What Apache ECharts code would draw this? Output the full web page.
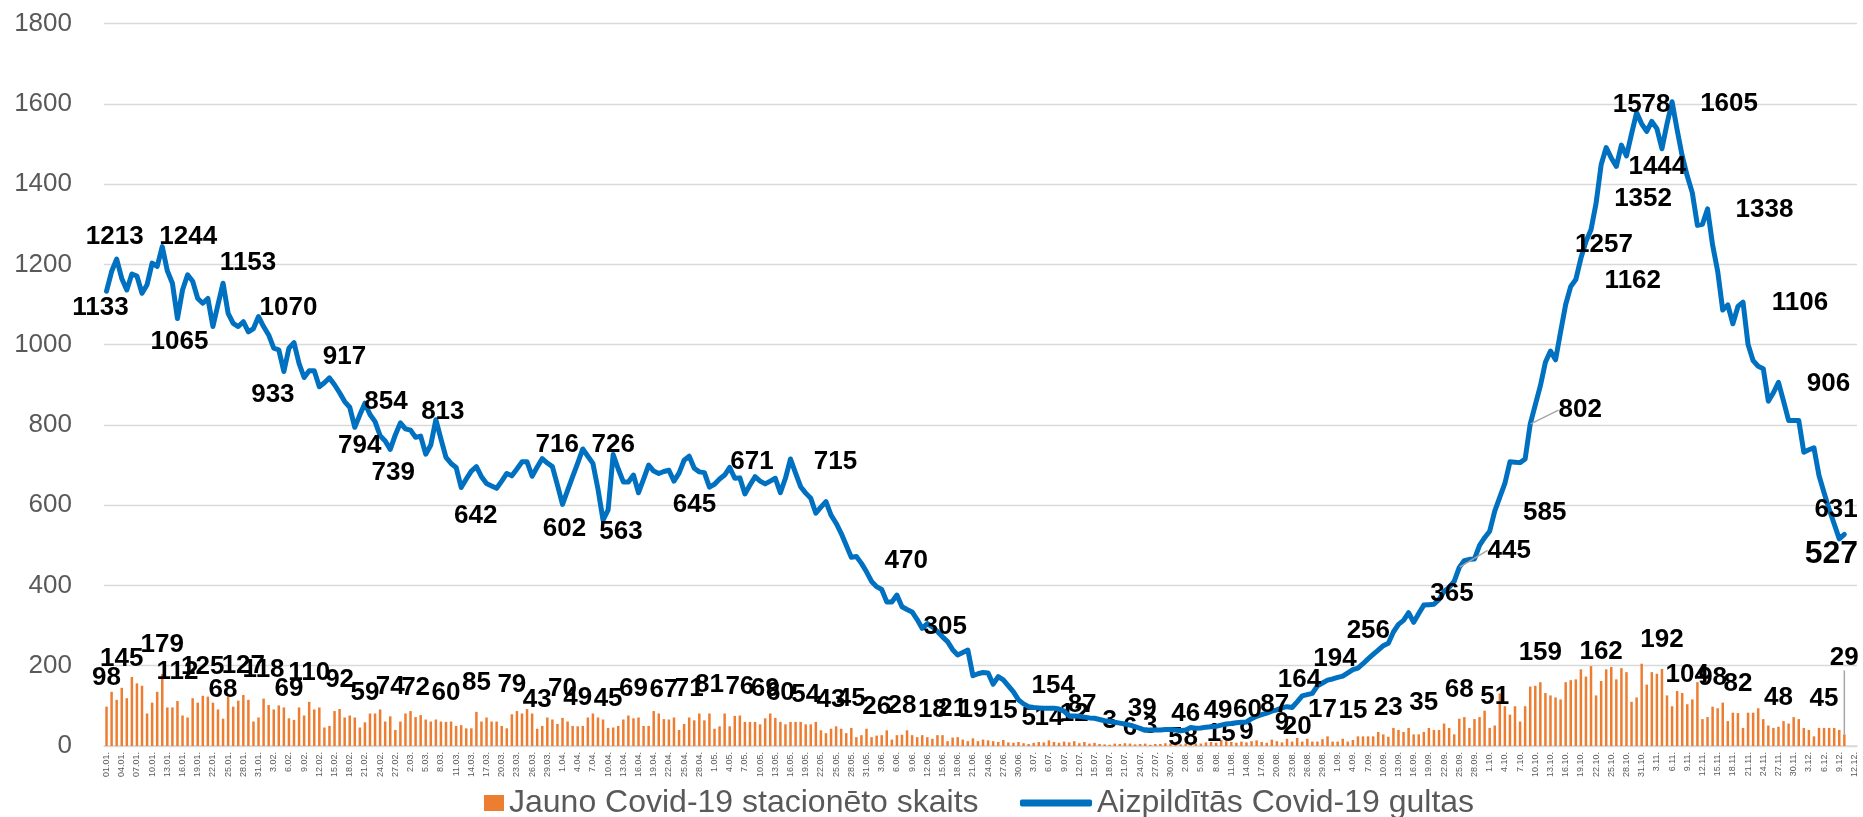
<!DOCTYPE html>
<html><head><meta charset="utf-8">
<script src="https://cdn.jsdelivr.net/npm/echarts@6/dist/echarts.min.js"></script>
<style>html,body{margin:0;padding:0;background:#fff}#c{width:1863px;height:817px}</style>
</head><body><div id="c"></div>
<script>
// ---------- DATA ----------
const seriesNames = ['Jauno Covid-19 stacionēto skaits', 'Aizpildītās Covid-19 gultas'];
const firstDay = '2021-01-01';
const categoryCount = 346; // 01.01. ... 12.12.

// New hospitalised patients per day (01.01. – 10.12.)
const newPatients = [
 98,135,115,145,119,172,156,150,81,108,
 135,179,96,96,112,76,71,119,108,125,
 123,108,91,68,123,98,113,127,115,61,
 71,118,102,91,101,96,69,65,96,76,
 110,91,96,46,50,87,92,71,76,71,
 46,59,81,81,91,61,74,40,61,81,
 87,72,77,66,61,66,61,60,61,50,
 52,44,44,85,61,71,61,61,50,44,
 79,87,81,92,81,43,50,71,66,55,
 70,61,50,49,50,71,81,71,66,45,
 46,50,66,76,69,71,50,50,87,81,
 67,66,71,40,55,71,64,81,64,81,
 43,49,81,49,75,76,60,60,60,54,
 69,81,70,60,54,60,60,60,54,54,
 60,39,32,43,49,43,32,45,22,27,
 43,22,26,27,39,16,27,28,39,27,
 22,27,22,18,27,27,12,21,22,16,
 12,19,12,16,14,12,10,15,9,8,
 10,7,5,8,10,9,14,10,8,11,
 9,12,7,10,6,8,5,4,3,6,
 5,7,6,4,5,6,3,5,5,7,
 6,5,4,6,8,6,6,9,10,8,
 15,12,10,8,11,9,12,14,10,8,
 16,12,9,18,11,20,11,18,11,11,
 17,24,11,11,18,11,15,24,24,24,
 24,35,29,23,45,40,35,45,29,29,
 35,45,40,40,56,45,29,68,72,45,
 67,72,88,45,51,131,99,78,99,61,
 99,148,150,159,132,126,121,116,159,164,
 166,191,173,199,126,162,191,197,166,194,
 184,110,121,205,153,184,180,192,126,99,
 137,132,104,116,159,67,72,98,94,108,
 62,83,82,45,83,83,94,67,51,45,
 48,62,56,72,67,45,40,24,45,45,
 45,45,40,29
];

// Occupied Covid-19 beds per day
const occupiedBeds = [
 1133,1182,1213,1165,1136,1176,1171,1128,1149,1203,
 1195,1244,1184,1153,1065,1136,1174,1158,1115,1103,
 1115,1045,1100,1153,1078,1053,1045,1057,1032,1040,
 1070,1045,1024,991,987,933,991,1005,953,918,
 935,935,895,905,917,900,880,858,844,794,
 825,854,826,808,773,760,739,775,805,790,
 787,769,772,727,750,813,765,719,704,694,
 644,665,685,696,671,654,648,642,660,679,
 673,690,708,708,672,695,716,705,696,650,
 602,637,671,705,740,722,704,640,563,588,
 726,690,658,658,675,631,665,700,685,679,
 684,687,660,680,712,722,692,683,681,645,
 652,665,675,694,667,668,628,650,671,660,
 653,660,667,631,667,715,680,646,630,617,
 580,595,609,575,555,530,500,470,472,455,
 434,410,397,390,359,359,376,347,340,334,
 315,293,305,297,285,272,260,240,227,233,
 239,175,180,183,182,154,173,165,150,135,
 115,105,98,96,95,94,94,94,92,87,
 75,75,74,72,70,69,66,63,61,59,
 57,55,52,48,44,39,40,40,40,41,
 41,40,38,40,46,44,45,47,48,49,
 52,55,56,58,59,60,68,74,78,82,
 87,90,95,98,96,110,125,128,131,150,
 157,164,167,171,174,182,190,194,205,217,
 228,239,250,256,284,303,313,332,308,330,
 351,352,353,365,385,395,410,445,462,465,
 466,500,519,535,585,620,654,708,707,706,
 715,802,850,897,956,984,962,1032,1100,1145,
 1162,1215,1257,1286,1352,1448,1491,1465,1444,1497,
 1470,1525,1578,1550,1531,1556,1538,1488,1550,1605,
 1535,1470,1420,1378,1297,1300,1338,1248,1183,1086,
 1099,1052,1095,1106,1000,960,946,940,859,880,
 906,859,811,811,811,732,738,743,674,631,
 590,553,516,527
];

// Days whose values carry a data label
const barLabelDays = [0,3,11,14,19,23,27,31,36,40,46,51,56,61,67,73,80,85,90,93,99,104,110,115,119,125,130,133,138,143,147,152,157,163,167,171,177,182,186,191,198,202,206,211,214,220,225,232,235,240,246,253,260,267,274,283,295,307,312,317,322,330,339,343];
const lineLabelDays = [0,2,11,14,23,30,35,44,49,51,56,65,77,86,90,98,100,119,128,135,147,162,175,189,205,214,219,225,230,241,247,253,263,267,274,281,290,292,294,298,302,309,316,323,330,339,343];

// ---------- STYLE (label placement, px: label centre relative to the point) ----------
const lineLabelOffset = {0:[-6,17],2:[-2,-22],11:[26,-10],14:[2,23],23:[25,-20],30:[30,-9],35:[-11,23],44:[15,-21],49:[5,19],51:[21,-1],56:[3,23],65:[7,-8],77:[-21,28],86:[15,-14],90:[2,24],98:[18,12],100:[0,-10],119:[-15,18],128:[-3,-15],135:[45,3],147:[55,3],162:[18,3],175:[60,2],189:[18,-6],205:[-3,-22],214:[-5,-14],219:[2,-16],225:[1,-12],230:[3,-6],241:[-28,0],247:[-23,-9],253:[-20,-12],263:[13,-6],267:[50,-17],274:[50,2],281:[50,-14],290:[57,1],292:[18,3],294:[47,-4],298:[41,0],302:[5,-8],309:[57,2],316:[57,1],323:[57,1],330:[50,1],339:[12,17],343:[-13,20]};
const lineLeaderDays = [267, 281];      // labels drawn with a grey leader line
const barLabelShift = {182:[0,3],186:[0,6],191:[0,2],198:[0,5],202:[0,13],206:[0,10],211:[0,23],214:[0,24],220:[0,23],225:[0,18],232:[0,9],235:[0,18],343:[0,-48]};
const barLeaderDays = [343];

// ---------- BUILD ----------
const categories = [];
(function(){
  const base = new Date(firstDay + 'T00:00:00Z');
  for (let i = 0; i < categoryCount; i++) {
    const d = new Date(base.getTime() + i * 86400000);
    const day = d.getUTCDate(), mon = d.getUTCMonth() + 1;
    const dd = (mon === 1 && day < 10) ? '0' + day : String(day);
    categories.push(dd + '.' + String(mon).padStart(2, '0') + '.');
  }
})();

const labelFont = {fontFamily: 'Liberation Sans', fontWeight: 'bold', fontSize: 26, color: '#000'};
const leaderLine = {show: true, length2: 0, smooth: false, lineStyle: {color: '#a6a6a6', width: 1.5}};

const barData = newPatients.map((v, i) => {
  if (barLabelDays.indexOf(i) < 0) return v;
  const item = {value: v, label: Object.assign({show: true, position: 'top', distance: 16}, labelFont)};
  if (barLeaderDays.indexOf(i) >= 0) item.labelLine = leaderLine;
  return item;
});
const lineData = occupiedBeds.map((v, i) => {
  if (lineLabelDays.indexOf(i) < 0) return v;
  const lab = Object.assign({show: true, position: 'inside'}, labelFont);
  if (i === occupiedBeds.length - 1) lab.fontSize = 32;
  const item = {value: v, label: lab};
  if (lineLeaderDays.indexOf(i) >= 0) item.labelLine = leaderLine;
  return item;
});

function shiftFrom(table) {
  return p => {
    const s = table[p.dataIndex];
    return s ? {dx: s[0], dy: s[1]} : {};
  };
}

const chart = echarts.init(document.getElementById('c'), null, {renderer: 'canvas'});
chart.setOption({
  animation: false,
  backgroundColor: '#fff',
  grid: {left: 104, right: 6, top: 23.5, bottom: 71, containLabel: false},
  legend: [
    {data: [seriesNames[0]], left: 479, top: 782, icon: 'rect', itemWidth: 20, itemHeight: 16,
     textStyle: {fontFamily: 'Liberation Sans', fontSize: 32, color: '#595959'}},
    {data: [seriesNames[1]], left: 1015, top: 782, icon: 'roundRect', itemWidth: 72, itemHeight: 7,
     textStyle: {fontFamily: 'Liberation Sans', fontSize: 32, color: '#595959'}}
  ],
  xAxis: {
    type: 'category', data: categories, boundaryGap: true,
    axisLine: {lineStyle: {color: '#d9d9d9', width: 1.5}},
    axisTick: {show: false},
    axisLabel: {interval: 2, rotate: 90, fontSize: 9, color: '#595959', fontFamily: 'Liberation Sans', margin: 6}
  },
  yAxis: {
    type: 'value', min: 0, max: 1800, interval: 200,
    axisLine: {show: false}, axisTick: {show: false},
    axisLabel: {fontSize: 26, color: '#595959', fontFamily: 'Liberation Sans', margin: 32,
                formatter: v => String(v)},
    splitLine: {lineStyle: {color: '#d9d9d9', width: 1.3}}
  },
  series: [
    {name: seriesNames[0], type: 'bar', data: barData, barWidth: 2.5,
     itemStyle: {color: '#ED7D31'}, z: 2,
     labelLayout: shiftFrom(barLabelShift)},
    {name: seriesNames[1], type: 'line', data: lineData, z: 3,
     symbol: 'circle', symbolSize: 1, showSymbol: true, showAllSymbol: true,
     itemStyle: {color: '#0070C0'},
     lineStyle: {color: '#0070C0', width: 5, join: 'round', cap: 'round'},
     labelLayout: shiftFrom(lineLabelOffset)}
  ]
});
</script>
</body></html>
